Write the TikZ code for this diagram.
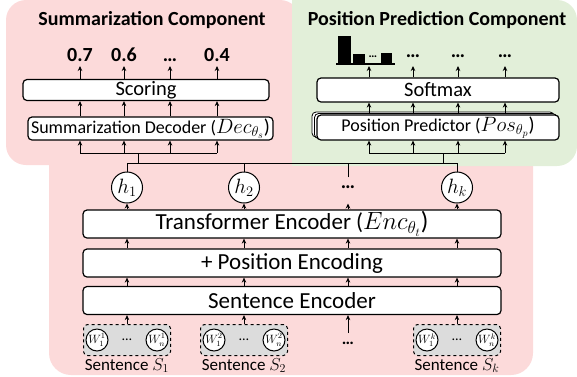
\documentclass[tikz,border=0pt]{standalone}
\usepackage{fontspec}
\setmainfont{Carlito}
\usetikzlibrary{arrows.meta,shadows,positioning}

\definecolor{sumbg}{RGB}{252,218,218}
\definecolor{posbg}{RGB}{226,239,217}
\definecolor{wordbg}{RGB}{220,220,220}

\tikzset{
  blk/.style={draw,fill=white,line width=1.2pt,rounded corners=4pt,inner sep=0pt},
  bigblk/.style={blk,minimum width=418pt,minimum height=28pt,font=\fontsize{23}{23}\selectfont},
  up/.style={-{Stealth[length=5pt,width=4.5pt]},line width=1pt},
  ln/.style={line width=1pt},
  hid/.style={circle,draw,fill=white,line width=1pt,inner sep=0pt,minimum size=31pt,font=\fontsize{22}{22}\selectfont},
  wrd/.style={circle,draw,fill=white,line width=1pt,inner sep=0pt,minimum size=22pt,font=\fontsize{12}{12}\selectfont},
  grp/.style={draw,dashed,fill=wordbg,rounded corners=4pt,line width=1pt,minimum width=87pt,minimum height=31pt},
  ttl/.style={font=\fontsize{20}{20}\selectfont\bfseries},
  num/.style={font=\fontsize{20}{20}\selectfont\bfseries,text height=13pt,text depth=0pt,inner ysep=2pt},
  lbl/.style={font=\fontsize{17}{17}\selectfont,inner sep=1pt}
}

\begin{document}
\begin{tikzpicture}[x=1pt,y=-1pt]
  \useasboundingbox (0,0) rectangle (577,376);
  % backgrounds
  \fill[sumbg,rounded corners=20pt] (6,0) rectangle (300,165);
  \fill[sumbg,rounded corners=22pt] (49,140) rectangle (533,375);
  \fill[posbg,rounded corners=20pt] (292,0) rectangle (577,166);
  \fill[posbg] (292,0) rectangle (330,166);

  % summarization component
  \node[ttl] (sumttl) at (152,20) {Summarization Component};
  \node[num] (o1) at (80,55) {0.7};
  \node[num] (o2) at (124,55) {0.6};
  \node[num] (o3) at (170,55) {…};
  \node[num] (o4) at (217,55) {0.4};
  \node[blk,minimum width=246pt,minimum height=21pt,font=\fontsize{20.5}{20}\selectfont] (score) at (146,90) {Scoring};
  \node[blk,minimum width=245pt,minimum height=23pt,font=\fontsize{18}{18}\selectfont] (dec) at (150.5,128.5) {Summarization Decoder (\fontsize{20}{20}\selectfont$Dec_{\theta_s}$)};
  \coordinate (stop) at (0,66);
  \coordinate (sbus) at (138,153);

  % position prediction component
  \node[ttl] (posttl) at (437,20) {Position Prediction Component};
  \fill (337.7,36) rectangle (350.7,63);
  \fill (353.3,54) rectangle (365,63);
  \fill (380.7,52.7) rectangle (392.3,63);
  \node[font=\fontsize{12}{12}\selectfont\bfseries,inner sep=0pt] (hdots) at (373,57) {…};
  \draw[line width=2pt] (336,63.5) -- (395,63.5);
  \coordinate (p1) at (369,65);
  \node[num] (p2) at (413,51) {…};
  \node[num] (p3) at (458,51) {…};
  \node[num] (p4) at (505,51) {…};
  \node[blk,minimum width=242pt,minimum height=24pt,font=\fontsize{20.5}{20}\selectfont] (soft) at (438,90) {Softmax};
  \node[blk,minimum width=242pt,minimum height=25pt,font=\fontsize{18}{18}\selectfont,
    double copy shadow={shadow xshift=-2.5pt,shadow yshift=1.5pt,fill=white,draw=black,line width=0.8pt}] (pred) at (438,127.5) {Position Predictor (\fontsize{20}{20}\selectfont$Pos_{\theta_p}$)};
  \coordinate (ptop) at (0,66);
  \coordinate (pbus) at (443,153);

  % encoder stack
  \node[hid] (h1) at (127,187.5) {$h_1$};
  \node[hid] (h2) at (244,187.5) {$h_2$};
  \node[num] (hd) at (348,182) {…};
  \node[hid] (hk) at (457,187.5) {$h_k$};
  \node[bigblk] (enc) at (292,224) {Transformer Encoder (\fontsize{25}{25}\selectfont$Enc_{\theta_t}$)};
  \node[bigblk] (posenc) at (292,263) {+ Position Encoding};
  \node[bigblk] (sentenc) at (292,300.5) {Sentence Encoder};
  \coordinate (hbus) at (348,163.3);

  % sentences
  \node[grp] (g1) at (127,340) {};
  \node[wrd] (w1a) at ([xshift=-30pt]g1.center) {$W^1_1$};
  \node[wrd] (w1b) at ([xshift=30pt]g1.center) {$W^1_n$};
  \node[font=\fontsize{14}{14}\selectfont,inner sep=0pt] at (g1) {…};
  \node[lbl,below=1pt of g1] (l1) {Sentence $S_1$};
  \node[grp] (g2) at (244,340) {};
  \node[wrd] (w2a) at ([xshift=-30pt]g2.center) {$W^2_1$};
  \node[wrd] (w2b) at ([xshift=30pt]g2.center) {$W^2_n$};
  \node[font=\fontsize{14}{14}\selectfont,inner sep=0pt] at (g2) {…};
  \node[lbl,below=1pt of g2] (l2) {Sentence $S_2$};
  \node[font=\fontsize{17}{17}\selectfont\bfseries] (gd) at (348,343) {…};
  \node[grp] (gk) at (457,340) {};
  \node[wrd] (wka) at ([xshift=-30pt]gk.center) {$W^k_1$};
  \node[wrd] (wkb) at ([xshift=30pt]gk.center) {$W^k_n$};
  \node[font=\fontsize{14}{14}\selectfont,inner sep=0pt] at (gk) {…};
  \node[lbl,below=1pt of gk] (lk) {Sentence $S_k$};

  % connectors
  \foreach \o in {o1,o2,o3,o4} {
    \draw[up] (\o |- score.north) -- (\o |- stop);
    \draw[up] (\o |- dec.north) -- (\o |- score.south);
    \draw[up] (\o |- sbus) -- (\o |- dec.south);
  }
  \draw[ln] (o1 |- sbus) -- (o4 |- sbus);
  \foreach \p in {p1,p2,p3,p4} {
    \draw[up] (\p |- soft.north) -- (\p |- ptop);
    \draw[up] (\p |- pred.north) -- (\p |- soft.south);
    \draw[up] (\p |- pbus) -- (\p |- pred.south);
  }
  \draw[ln] (p1 |- pbus) -- (p4 |- pbus);
  \draw[ln] (h1.north) |- (hbus) -| (hk.north);
  \draw[ln] (h2.north) -- (h2 |- hbus);
  \draw[ln] ([yshift=-4pt]hd.north) -- (hbus);
  \draw[ln] (sbus |- hbus) -- (sbus);
  \draw[ln] (pbus |- hbus) -- (pbus);
  \foreach \c in {h1,h2,hd,hk} {
    \draw[up] (\c |- enc.north) -- (\c |- h1.south);
    \draw[up] (\c |- posenc.north) -- (\c |- enc.south);
    \draw[up] (\c |- sentenc.north) -- (\c |- posenc.south);
  }
  \draw[up] (g1.north) -- (g1 |- sentenc.south);
  \draw[up] (g2.north) -- (g2 |- sentenc.south);
  \draw[up] ([yshift=10pt]gd.center) -- (gd |- sentenc.south);
  \draw[up] (gk.north) -- (gk |- sentenc.south);
\end{tikzpicture}
\end{document}
